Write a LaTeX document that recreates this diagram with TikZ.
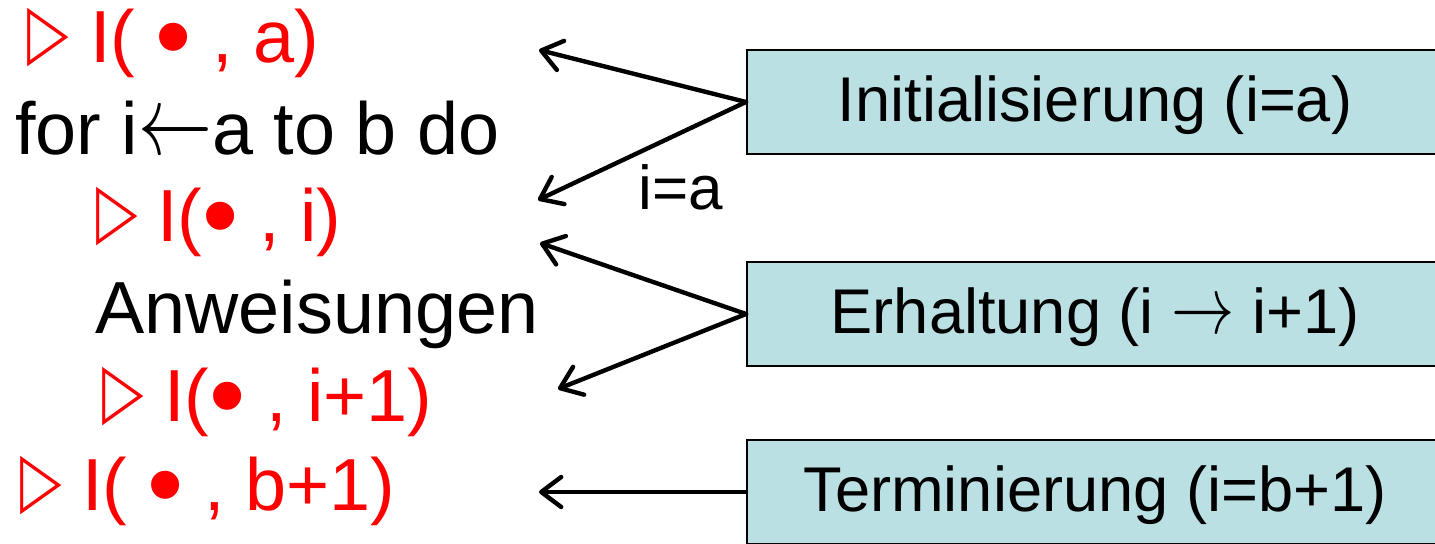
\documentclass[tikz,border=0pt]{standalone}
\usepackage{fix-cm}
\usepackage{fontspec}
\setmainfont{Liberation Sans}
\newfontfamily\symfont{DejaVu Sans}
\usetikzlibrary{arrows.meta}
\definecolor{boxfill}{HTML}{BBE0E3}
\definecolor{invred}{HTML}{FF0000}
% hollow triangle that opens each invariant line
\newcommand{\invtri}{\scalebox{1}[1.42]{\symfont\fontsize{27}{27}\selectfont ▷}}
% the placeholder dot of an invariant
\newcommand{\argdot}{\smash{\raisebox{-0.12em}{\scalebox{1.4}{•}}}}
% thin arrows taken from the math font
\newcommand{\assignarrow}{\scalebox{1}[1.35]{\fontsize{37}{38}\selectfont$\leftarrow$}}
\newcommand{\steparrow}{\scalebox{1}[1.3]{\fontsize{31.6}{34}\selectfont$\rightarrow$}}
\begin{document}
\begin{tikzpicture}[x=0.5pt,y=-0.5pt,
  code/.style={anchor=base west, inner sep=0pt, font=\fontsize{36.9}{40}\selectfont},
  inv/.style={code, text=invred},
  invmark/.style={anchor=base west, inner sep=0pt, text=invred},
  phase/.style={draw=black, line width=1pt, fill=boxfill,
    minimum width=348pt, minimum height=52pt, inner sep=0pt,
    font=\fontsize{31.6}{34}\selectfont, text height=24pt, text depth=4pt},
  link/.style={line width=2.2pt, line cap=round,
    -{Straight Barb[length=10pt,width=15pt,round]}},
  note/.style={anchor=base west, inner sep=0pt, font=\fontsize{31}{34}\selectfont}
]
\clip (0,0) rectangle (1435,544);

% pseudo code with its invariants
\node[invmark] (t1) at (27,58) {\invtri};
\node[inv] (l1) at (90,63) {I( \argdot\ , a)};
\node[code] (l2) at (15,155) {for i\assignarrow a to b do};
\node[invmark] (t3) at (96,237) {\invtri};
\node[inv] (l3) at (157,242) {I(\argdot\ , i)};
\node[code] (l4) at (95,334) {Anweisungen};
\node[invmark] (t5) at (102,417) {\invtri};
\node[inv] (l5) at (164,422) {I(\argdot\ , i+1)};
\node[invmark] (t6) at (20,506) {\invtri};
\node[inv] (l6) at (82,511) {I( \argdot\ , b+1)};

% proof phases
\node[phase] (b1) at (1095,102) {Initialisierung (i=a)};
\node[phase] (b2) at (1095,314) {Erhaltung (i \steparrow\ i+1)};
\node[phase] (b3) at (1095,492) {Terminierung (i=b+1)};

% arrow tips next to the code lines
\coordinate (p1) at (539,50);
\coordinate (p2) at (538,200);
\coordinate (p3) at (540,243);
\coordinate (p4) at (558,389);
\coordinate (p5) at (539,492);

\draw[link] (b1.west) -- (p1);
\draw[link] (b1.west) -- (p2);
\draw[link] (b2.west) -- (p3);
\draw[link] (b2.west) -- (p4);
\draw[link] (b3.west) -- (p5);

\node[note] (ia) at (638,210) {i=a};
\end{tikzpicture}
\end{document}
